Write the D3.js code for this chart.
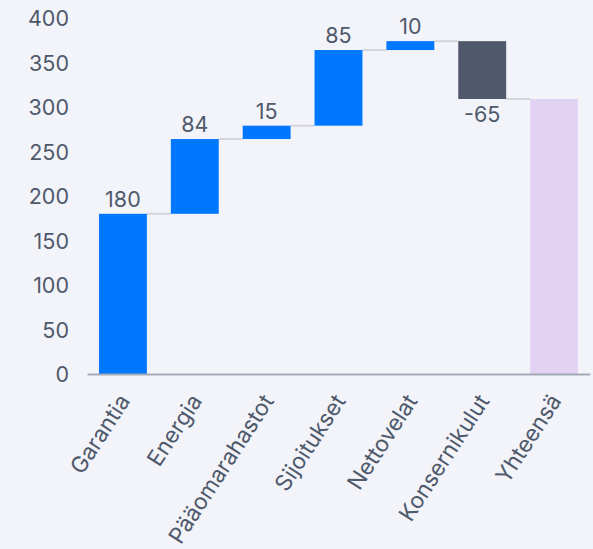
<!DOCTYPE html>
<html><head><meta charset="utf-8">
<script src="https://cdn.jsdelivr.net/npm/d3@7"></script>
<style>
html,body{margin:0;padding:0;background:#f3f4f9;}
svg{display:block;}
text{font-family:"Inter","Open Sans",sans-serif;fill:#4f596c;}
</style></head>
<body><svg id="c" width="593" height="549"></svg>
<script>
const categories = ["Garantia","Energia","Pääomarahastot","Sijoitukset","Nettovelat","Konsernikulut","Yhteensä"];
const deltas = [180, 84, 15, 85, 10, -65];
const totalLabel = "Yhteensä";
const yTicks = [0,50,100,150,200,250,300,350,400];

let run = 0;
const rows = deltas.map((d,i)=>{
  const start = run; run += d;
  return {cat:categories[i], start, end:run, value:d, type: d>=0?"pos":"neg"};
});
rows.push({cat:totalLabel, start:0, end:run, value:run, type:"total"});

const FONT = "Inter, 'Open Sans', sans-serif";
const svg = d3.select("#c");
const x = d3.scaleBand().domain(categories).range([87,590]).paddingInner(1/3).paddingOuter(1/6);
const y = d3.scaleLinear().domain([0,400]).range([374,18]);
const colors = {pos:"#0077ff", neg:"#4f596b", total:"#e3d3f2"};

const ya = svg.append("g").attr("transform","translate(69,0)").call(d3.axisLeft(y).tickValues(yTicks).tickSize(0).tickPadding(0));
ya.select(".domain").remove();
ya.selectAll("text").style("font-size","21.5px").attr("fill","#4f596c").attr("dy","0.36em").style("font-family",FONT);

svg.append("g").selectAll("line").data(rows.slice(0,-1)).join("line")
  .attr("x1",(d)=>x(d.cat)+x.bandwidth())
  .attr("x2",(d,i)=>x(rows[i+1].cat))
  .attr("y1",d=>y(d.end)).attr("y2",d=>y(d.end))
  .attr("stroke","#d4d5da").attr("stroke-width",2);

svg.append("g").selectAll("rect").data(rows).join("rect")
  .attr("x",d=>x(d.cat)).attr("width",x.bandwidth())
  .attr("y",d=>y(Math.max(d.start,d.end)))
  .attr("height",d=>Math.abs(y(d.start)-y(d.end)))
  .attr("fill",d=>colors[d.type]);

const xa = svg.append("g").attr("transform","translate(0,374)").call(d3.axisBottom(x).tickSize(0).tickPadding(0));
xa.select(".domain").attr("stroke","#a4a9b8").attr("stroke-width",2);
xa.selectAll("text")
  .style("font-size","22.5px").style("font-family",FONT)
  .attr("fill","#4f596c")
  .attr("text-anchor","end")
  .attr("dy",null).attr("y",0)
  .attr("transform","translate(8,27) rotate(-57)");

svg.append("g").selectAll("text").data(rows.filter(d=>d.type!=="total")).join("text")
  .attr("x",d=>x(d.cat)+x.bandwidth()/2)
  .attr("y",d=>d.value>=0 ? y(d.end)-7 : y(d.end)+23)
  .attr("text-anchor","middle")
  .style("font-size","21.5px").style("font-family",FONT)
  .text(d=>d.value);
</script></body></html>
